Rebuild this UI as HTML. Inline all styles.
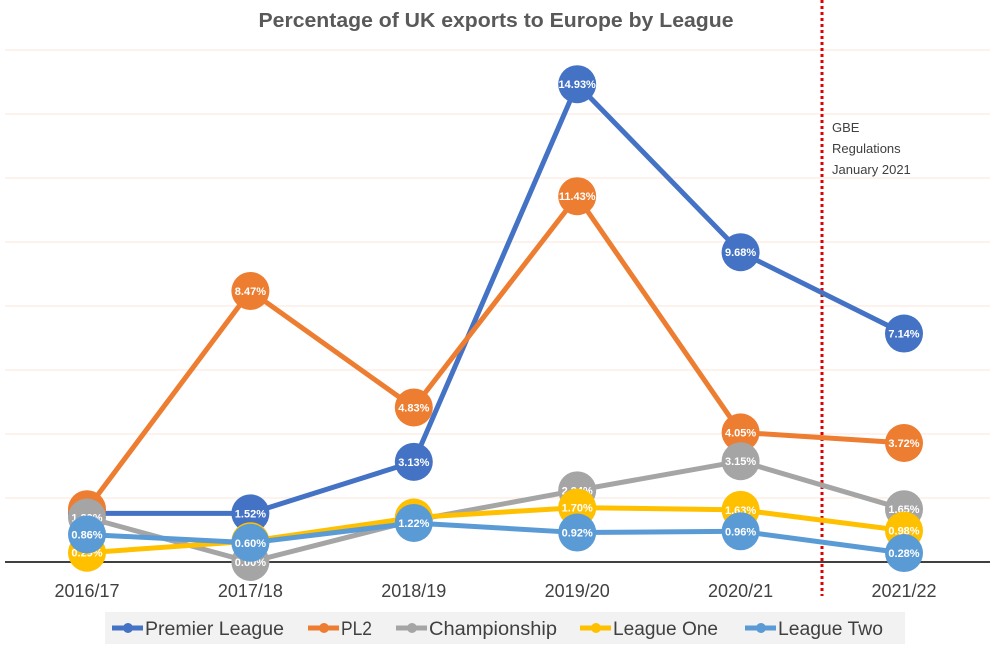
<!DOCTYPE html>
<html><head><meta charset="utf-8"><style>
body{margin:0;background:#fff;font-family:"Liberation Sans",sans-serif}
</style></head><body>
<svg id="c" width="1001" height="647"></svg>
<script>
const categories=["2016/17","2017/18","2018/19","2019/20","2020/21","2021/22"];
const seriesNames=["Premier League","PL2","Championship","League One","League Two"];
const premierLeague=[1.52,1.52,3.13,14.93,9.68,7.14];
const pl2=[1.65,8.47,4.83,11.43,4.05,3.72];
const championship=[1.39,0.00,1.30,2.24,3.15,1.65];
const leagueOne=[0.29,0.65,1.39,1.70,1.63,0.98];
const leagueTwo=[0.86,0.60,1.22,0.92,0.96,0.28];
const colors=["#4472c4","#ed7d31","#a5a5a5","#ffc000","#5b9bd5"];
const allSeries=[premierLeague,pl2,championship,leagueOne,leagueTwo];
const gridTicks=[0,2,4,6,8,10,12,14,16];
const NS="http://www.w3.org/2000/svg";
const svg=document.getElementById('c');
const x=i=>87+i*163.4;
const y=v=>562-v*32;
function mk(t,a,p){const e=document.createElementNS(NS,t);for(const k in a)e.setAttribute(k,a[k]);(p||svg).appendChild(e);return e;}
const title=mk('text',{x:496,y:27,'text-anchor':'middle','font-size':20,'font-weight':'bold',fill:'#595959',textLength:475,lengthAdjust:'spacingAndGlyphs'});
title.textContent="Percentage of UK exports to Europe by League";


gridTicks.forEach(t=>{if(t===0)return;const g=mk('line',{x1:5,x2:990,y1:y(t),y2:y(t),stroke:'#fbe6d9','stroke-width':1});

});
const ax=mk('line',{x1:5,x2:990,y1:562,y2:562,stroke:'#404040','stroke-width':2});


categories.forEach((c,i)=>{const t=mk('text',{x:x(i),y:597,'text-anchor':'middle','font-size':18,fill:'#404040'});t.textContent=c;

});
const rl=mk('line',{x1:822,x2:822,y1:0,y2:596,stroke:'#e00000','stroke-width':3,'stroke-dasharray':'3,3'});


["GBE","Regulations","January 2021"].forEach((s,i)=>{const t=mk('text',{x:832,y:132+i*21,'font-size':13,fill:'#404040'});t.textContent=s;

});
allSeries.forEach((vals,si)=>{
 const g=mk('g',{});
 
 
 mk('polyline',{points:vals.map((v,i)=>x(i)+','+y(v)).join(' '),fill:'none',stroke:colors[si],'stroke-width':5},g);
 vals.forEach((v,i)=>{
  const c=mk('circle',{cx:x(i),cy:y(v),r:19,fill:colors[si]},g);
  
  
  const t=mk('text',{x:x(i),y:y(v)+4,'text-anchor':'middle','font-size':11,'font-weight':'bold',fill:'#fff'},g);
  t.textContent=v.toFixed(2)+'%';
  
  
 });
});
const lg=mk('g',{});


mk('rect',{x:105,y:612,width:800,height:32,fill:'#f2f2f2'},lg);
const lx=[112,308,396,580,745];
const lw=[139,31,128,105,105];
seriesNames.forEach((n,i)=>{
 const e=mk('g',{},lg);
 
 
 mk('line',{x1:lx[i],x2:lx[i]+31,y1:628,y2:628,stroke:colors[i],'stroke-width':5},e);
 mk('circle',{cx:lx[i]+16,cy:628,r:5,fill:colors[i]},e);
 const t=mk('text',{x:lx[i]+33,y:635,'font-size':19,fill:'#404040',textLength:lw[i],lengthAdjust:'spacingAndGlyphs'},e);t.textContent=n;
});
</script>
</body></html>
